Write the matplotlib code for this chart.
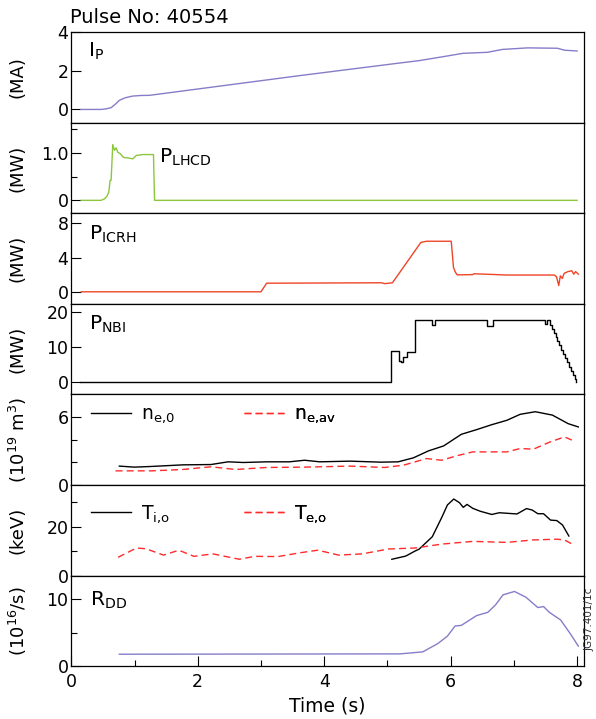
import matplotlib
matplotlib.use("Agg")
import matplotlib.pyplot as plt
from matplotlib.lines import Line2D

plt.rcParams["font.family"] = ["DejaVu Sans"]
plt.rcParams["mathtext.default"] = "regular"

# ---- plasma current Ip (MA)
ip_t = [0.15, 0.47, 0.55, 0.63, 0.70, 0.76, 0.85, 0.97, 1.10, 1.24, 3.62, 5.15,
        5.50, 5.89, 6.20, 6.58, 6.82, 7.22, 7.69, 7.80, 8.00]
ip_v = [0.0, 0.0, 0.03, 0.09, 0.28, 0.47, 0.60, 0.69, 0.72, 0.73, 1.75, 2.38,
        2.52, 2.73, 2.90, 2.95, 3.10, 3.18, 3.16, 3.06, 3.02]

# ---- lower hybrid power (MW)
lh_t = [0.155, 0.47, 0.524, 0.561, 0.593, 0.614, 0.63, 0.656, 0.683, 0.709,
        0.735, 0.772, 0.825, 0.894, 0.974, 1.026, 1.13, 1.30, 1.317, 8.0]
lh_v = [0.0, 0.0, 0.03, 0.08, 0.17, 0.42, 0.42, 1.17, 1.05, 1.10,
        1.01, 0.98, 0.90, 0.89, 0.87, 0.94, 0.96, 0.96, 0.0, 0.0]

# ---- ICRH power (MW)
ic_t = [0.157, 3.00, 3.09, 4.90, 4.96, 5.08, 5.53, 5.62, 6.01, 6.045, 6.075,
        6.105, 6.35, 6.37, 6.9, 7.3, 7.64, 7.675, 7.71, 7.735, 7.766, 7.796,
        7.856, 7.917, 7.947, 7.977, 8.02]
ic_v = [0.05, 0.05, 1.05, 1.10, 1.00, 1.10, 5.80, 5.93, 5.93, 2.90, 2.33,
        2.02, 2.05, 2.15, 2.00, 2.00, 2.00, 1.80, 0.78, 1.90, 1.60, 2.20,
        2.40, 2.50, 2.10, 2.40, 2.10]

# ---- neutral beam power (MW), stepwise
nb_t = [0.13, 5.05, 5.19, 5.21, 5.25, 5.31, 5.44, 5.71, 5.75, 6.58, 6.67, 7.49,
        7.53, 7.57, 7.60, 7.63, 7.66, 7.69, 7.72, 7.75, 7.78, 7.81, 7.84, 7.87,
        7.90, 7.93, 7.96, 7.99]
nb_v = [0.0, 8.8, 6.0, 5.7, 7.0, 8.6, 17.6, 16.3, 17.6, 15.9, 17.6, 16.4,
        17.6, 16.3, 15.2, 14.0, 12.8, 11.6, 10.4, 9.2, 8.0, 6.8, 5.6, 4.4,
        3.2, 2.0, 0.8, 0.0]

# ---- densities (1e19 m^-3)
ne0_t = [0.76, 1.00, 1.27, 1.76, 2.21, 2.48, 2.72, 3.09, 3.45, 3.69, 3.93, 4.41,
         4.90, 5.17, 5.41, 5.65, 5.89, 6.17, 6.41, 6.65, 6.89, 7.10, 7.34, 7.61,
         7.86, 8.02]
ne0_v = [1.68, 1.59, 1.65, 1.79, 1.82, 2.06, 2.00, 2.06, 2.06, 2.20, 2.06, 2.12,
         2.03, 2.06, 2.41, 3.03, 3.47, 4.50, 4.91, 5.35, 5.74, 6.27, 6.50, 6.20,
         5.44, 5.15]
neav_t = [0.70, 1.27, 1.76, 2.21, 2.60, 3.09, 3.69, 4.41, 4.96, 5.26, 5.62, 5.86,
          6.10, 6.35, 6.89, 7.10, 7.31, 7.55, 7.80, 7.95]
neav_v = [1.26, 1.26, 1.38, 1.62, 1.38, 1.56, 1.59, 1.68, 1.56, 1.77, 2.35, 2.20,
          2.60, 2.94, 2.94, 3.24, 3.18, 3.77, 4.27, 3.91]

# ---- central temperatures (keV)
ti_t = [5.07, 5.29, 5.44, 5.50, 5.71, 5.86, 5.95, 6.05, 6.14, 6.20, 6.26, 6.35,
        6.47, 6.65, 6.77, 7.05, 7.20, 7.29, 7.38, 7.47, 7.58, 7.68, 7.77, 7.87]
ti_v = [6.7, 8.0, 10.1, 10.8, 15.9, 23.8, 28.9, 31.3, 29.8, 27.9, 29.1, 27.5,
        26.3, 25.0, 25.7, 25.2, 27.4, 26.8, 25.3, 25.3, 22.7, 22.5, 20.7, 16.2]
te_t = [0.74, 1.03, 1.18, 1.46, 1.70, 1.94, 2.24, 2.66, 2.90, 3.27, 3.63, 3.90,
        4.23, 4.60, 5.02, 5.44, 5.86, 6.35, 6.89, 7.31, 7.68, 7.80, 7.95]
te_v = [7.5, 11.3, 11.0, 8.4, 10.4, 7.9, 8.9, 6.7, 7.9, 7.8, 9.4, 10.4,
        8.4, 8.9, 10.9, 11.3, 12.9, 14.0, 13.6, 14.6, 14.9, 14.6, 12.5]

# ---- DD neutron rate (1e16 /s)
rdd_t = [0.76, 5.20, 5.56, 5.80, 5.95, 6.07, 6.17, 6.41, 6.59, 6.71, 6.83, 7.01,
         7.19, 7.38, 7.47, 7.56, 7.74, 7.89, 8.02]
rdd_v = [1.80, 1.85, 2.15, 3.40, 4.50, 6.00, 6.10, 7.55, 8.05, 9.15, 10.65, 11.15,
         10.30, 8.75, 8.90, 8.05, 6.90, 4.90, 3.00]

PURPLE = "#857dc9"
GREEN = "#8cc63f"
ORANGE = "#ee4528"
RED = "#ff2b2b"

fig = plt.figure(figsize=(5.96, 7.19), dpi=100)
gs = fig.add_gridspec(7, 1, left=0.1196, right=0.9799, top=0.9555,
                      bottom=0.0733, hspace=0)
axes = [fig.add_subplot(gs[i]) for i in range(7)]

LW = 1.0
axes[0].plot(ip_t, ip_v, color=PURPLE, lw=LW)
axes[1].plot(lh_t, lh_v, color=GREEN, lw=LW)
axes[2].plot(ic_t, ic_v, color=ORANGE, lw=LW)
axes[3].plot(nb_t, nb_v, color="black", lw=LW, drawstyle="steps-post")
axes[4].plot(ne0_t, ne0_v, color="black", lw=LW)
axes[4].plot(neav_t, neav_v, color=RED, lw=LW, dashes=(5, 3))
axes[5].plot(ti_t, ti_v, color="black", lw=LW)
axes[5].plot(te_t, te_v, color=RED, lw=LW, dashes=(5, 3))
axes[6].plot(rdd_t, rdd_v, color=PURPLE, lw=LW)

ylims = [(-0.68, 4.0), (-0.27, 1.63), (-1.35, 9.19), (-3.5, 22.2),
         (0, 8.03), (0, 37), (0, 13.5)]
major = [[0, 2, 4], [0, 1.0], [0, 4, 8], [0, 10, 20], [0, 6], [0, 20], [0, 10]]
major_lbl = [["0", "2", "4"], ["0", "1.0"], ["0", "4", "8"], ["0", "10", "20"],
             ["0", "6"], ["0", "20"], ["0", "10"]]
minor = [[], [0.5, 1.5], [], [], [2, 4], [10, 30], [5]]
units = ["(MA)", "(MW)", "(MW)", "(MW)", r"(10$^{19}$ m$^3$)", "(keV)",
         r"(10$^{16}$/s)"]

for i, ax in enumerate(axes):
    ax.set_xlim(0, 8.11)
    ax.set_ylim(*ylims[i])
    ax.set_yticks(major[i], labels=major_lbl[i])
    ax.set_yticks(minor[i], minor=True)
    ax.tick_params(axis="y", which="major", direction="in", length=7,
                   width=0.8, labelsize=12.5, pad=2)
    ax.tick_params(axis="y", which="minor", direction="in", length=4.5,
                   width=0.8)
    for s in ax.spines.values():
        s.set_linewidth(0.9)
    ax.text(-0.104, 0.5, units[i], transform=ax.transAxes, rotation=90,
            ha="center", va="center", fontsize=13)
    if i < 6:
        ax.tick_params(axis="x", which="both", bottom=False, labelbottom=False)

bx = axes[6]
bx.set_xticks([0, 2, 4, 6, 8])
bx.set_xticks([1, 3, 5, 7], minor=True)
bx.tick_params(axis="x", which="major", direction="in", length=7, width=0.8,
               labelsize=12.5, pad=5)
bx.tick_params(axis="x", which="minor", direction="in", length=4.5, width=0.8)
bx.set_xlabel("Time (s)", fontsize=13.5, labelpad=4)

# panel names
LBL = 14.5
axes[0].text(0.032, 0.726, r"I$_{P}$", transform=axes[0].transAxes,
             fontsize=LBL, va="baseline")
axes[1].text(0.171, 0.556, r"P$_{LHCD}$", transform=axes[1].transAxes,
             fontsize=LBL, va="baseline")
axes[2].text(0.034, 0.706, r"P$_{ICRH}$", transform=axes[2].transAxes,
             fontsize=LBL, va="baseline")
axes[3].text(0.034, 0.713, r"P$_{NBI}$", transform=axes[3].transAxes,
             fontsize=LBL, va="baseline")
axes[6].text(0.037, 0.666, r"R$_{DD}$", transform=axes[6].transAxes,
             fontsize=LBL, va="baseline")

axes[0].text(-0.003, 1.096, "Pulse No: 40554", transform=axes[0].transAxes,
             fontsize=14, va="baseline", ha="left")


def key(ax, x, y, color, dashed, label):
    h = Line2D([], [], color=color, lw=LW, dashes=(5, 3) if dashed else (None, None))
    leg = ax.legend([h], [label], loc="center left", bbox_to_anchor=(x, y),
                    frameon=False, borderpad=0, borderaxespad=0,
                    handlelength=2.15, handletextpad=0.55, fontsize=13.5)
    ax.add_artist(leg)


key(axes[4], 0.038, 0.775, "black", False, r"n$_{e{,}0}$")
key(axes[4], 0.336, 0.775, RED, True, r"n$_{e{,}av}$")
key(axes[5], 0.038, 0.68, "black", False, r"T$_{i{,}o}$")
key(axes[5], 0.336, 0.68, RED, True, r"T$_{e{,}o}$")

fig.text(590 / 596, 1 - 619 / 719, "JG97.401/1c", rotation=90, ha="center",
         va="center", fontsize=7.5, color="#333333")

fig.savefig("out.png", dpi=100)
